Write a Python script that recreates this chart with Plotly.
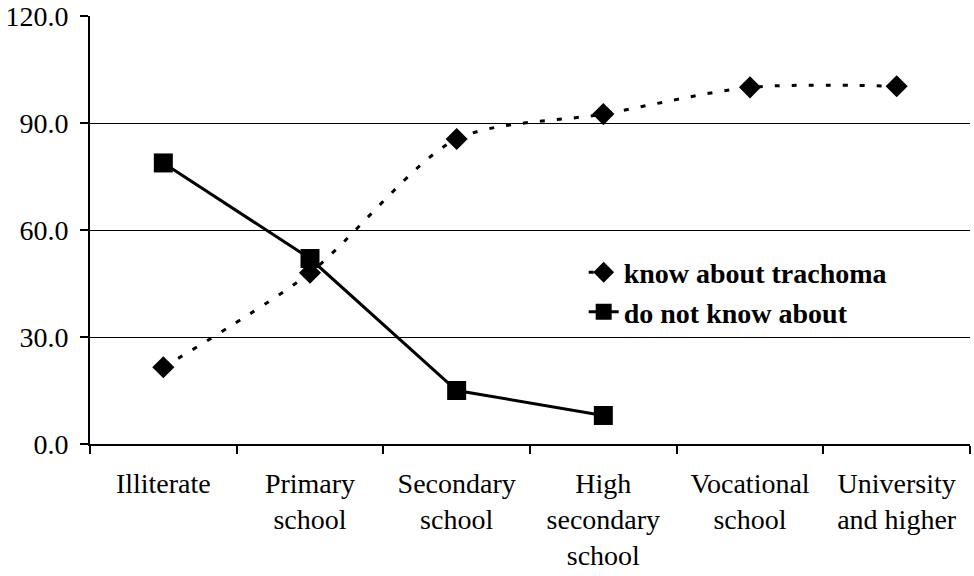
import plotly.graph_objects as go

categories = ["Illiterate", "Primary<br>school", "Secondary<br>school",
              "High<br>secondary<br>school", "Vocational<br>school", "University<br>and higher"]
know = [21.5, 48.0, 85.5, 92.5, 100.0, 100.3]
dont_know = [78.8, 52.0, 15.0, 8.0, None, None]
y_ticks = [0, 30, 60, 90, 120]
y_tick_text = ["0.0", "30.0", "60.0", "90.0", "120.0"]

FONT = "Liberation Serif"

fig = go.Figure()
fig.add_trace(go.Scatter(
    x=categories, y=know, name="know about trachoma", mode="lines+markers",
    line=dict(color="black", width=3, dash="5px,12px", shape="spline", smoothing=0.8),
    marker=dict(symbol="diamond", size=17, color="black"),
))
fig.add_trace(go.Scatter(
    x=categories, y=dont_know, name="do not know about", mode="lines+markers",
    line=dict(color="black", width=3),
    marker=dict(symbol="square", size=19, color="black"),
))

fig.update_layout(
    width=974, height=576,
    margin=dict(l=90, r=4, t=16, b=132),
    paper_bgcolor="white", plot_bgcolor="white",
    font=dict(family=FONT, size=28, color="black"),
    showlegend=True,
    legend=dict(x=0.561, y=0.459, xanchor="left", yanchor="top",
                bgcolor="rgba(0,0,0,0)", font=dict(family=FONT, size=28, color="black", weight="bold"),
                traceorder="normal"),
    xaxis=dict(
        type="category", tickson="boundaries", ticks="outside", ticklen=8, tickwidth=1.5,
        tickcolor="black", showline=True, linecolor="black", linewidth=2,
        showgrid=False, automargin=False, ticklabelstandoff=13,
        tickfont=dict(family=FONT, size=28, color="black"),
        range=[-0.5, 5.5],
    ),
    yaxis=dict(
        range=[0, 120], tickvals=y_ticks, ticktext=y_tick_text,
        ticks="outside", ticklen=8, tickwidth=1.5, tickcolor="black",
        showline=True, linecolor="black", linewidth=2,
        showgrid=True, gridcolor="black", gridwidth=1, zeroline=False,
        automargin=False, ticklabelstandoff=6, ticklabeloverflow="allow",
        tickfont=dict(family=FONT, size=28, color="black"),
    ),
)

fig.write_html("out.html", config={"displayModeBar": False},
               post_script="document.body.style.margin='0';")
